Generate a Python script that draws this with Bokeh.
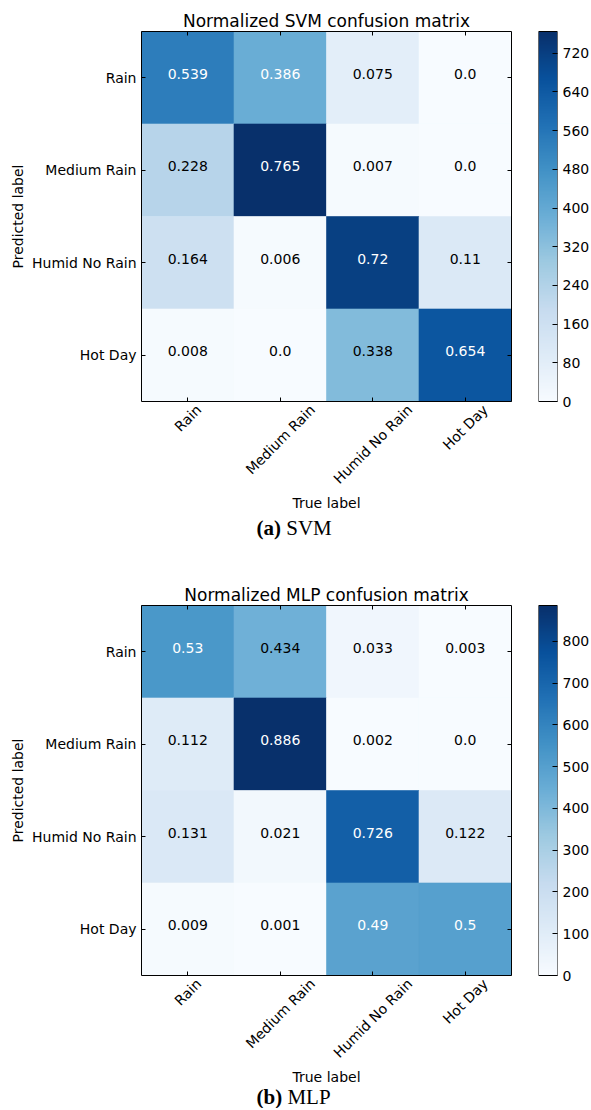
import numpy as np
from math import pi, sqrt
from bokeh.plotting import figure
from bokeh.layouts import column, row
from bokeh.models import (ColumnDataSource, LinearColorMapper, LinearAxis, FixedTicker, Range1d)
from bokeh.palettes import Blues256
from bokeh.core.properties import value
from bokeh.embed import file_html
from bokeh.resources import INLINE

# ---------------- data ----------------
classes = ["Rain", "Medium Rain", "Humid No Rain", "Hot Day"]

# rows = predicted label, columns = true label
svm_values = [
    [0.539, 0.386, 0.075, 0.0],
    [0.228, 0.765, 0.007, 0.0],
    [0.164, 0.006, 0.72, 0.11],
    [0.008, 0.0, 0.338, 0.654],
]
mlp_values = [
    [0.53, 0.434, 0.033, 0.003],
    [0.112, 0.886, 0.002, 0.0],
    [0.131, 0.021, 0.726, 0.122],
    [0.009, 0.001, 0.49, 0.5],
]
svm_title = "Normalized SVM confusion matrix"
mlp_title = "Normalized MLP confusion matrix"
svm_caption = ("(a)", "SVM")
mlp_caption = ("(b)", "MLP")
svm_cbar_step = 80
mlp_cbar_step = 100
x_axis_label = "True label"
y_axis_label = "Predicted label"
COUNT_SCALE = 1000

# ---------------- style (pixels) ----------------
FONT = "DejaVu Sans"
SERIF = "Liberation Serif"
PALETTE = list(reversed(Blues256))
FRAME = 370          # heat-map side
LEFT = 141           # space left of heat-map
GAP = 27             # heat-map right edge -> colour bar
CB_W = 19
CB_RIGHT = 33
FS = 14
CAP_FS = 21

DEJAVU_W = {"R": .695, "a": .613, "i": .278, "n": .634, "M": .863, "e": .615, "d": .635,
            "u": .634, "m": .974, " ": .318, "H": .752, "N": .748, "o": .612, "D": .770,
            "t": .392, "y": .592}
SERIF_BOLD_W = {"(": .333, ")": .333, "a": .5, "b": .556}


def text_width(s, size, table=DEJAVU_W):
    return sum(table.get(c, 0.6) for c in s) * size


def style_axis(ax, tick_len):
    ax.major_tick_in = tick_len
    ax.major_tick_out = 0
    ax.minor_tick_line_color = None
    ax.major_tick_line_color = "black"
    ax.axis_line_color = None
    ax.major_label_text_font = FONT
    ax.major_label_text_font_size = f"{FS}px"
    ax.major_label_text_color = "black"
    ax.major_label_standoff = 5


def tick_axis(loc, ticks, labels=None):
    ax = LinearAxis(fixed_location=loc, ticker=FixedTicker(ticks=ticks))
    style_axis(ax, 4)
    over = {}
    for k, t in enumerate(ticks):
        lab = "" if labels is None else labels[k]
        over[t] = lab
        over[str(t)] = lab
    ax.major_label_overrides = over
    return ax


def build(values, title, caption, step, top, bottom, caption_drop):
    n = len(classes)
    unit = FRAME / n
    vmax = max(max(r) for r in values) * COUNT_SCALE
    vthresh = max(max(r) for r in values) / 2
    mapper = LinearColorMapper(palette=PALETTE, low=0, high=vmax)

    xs, ys, counts, labels, tcol = [], [], [], [], []
    for i, pred in enumerate(classes):
        for j, true in enumerate(classes):
            v = values[i][j]
            xs.append(j + 0.5)
            ys.append(n - 1 - i + 0.5)
            counts.append(v * COUNT_SCALE)
            labels.append(str(round(v, 3)))
            tcol.append("white" if v > vthresh else "black")
    src = ColumnDataSource(dict(x=xs, y=ys, count=counts, label=labels, tcol=tcol))

    width = LEFT + FRAME + GAP
    height = top + FRAME + bottom
    p = figure(x_range=Range1d(-LEFT / unit, n + GAP / unit),
               y_range=Range1d(-bottom / unit, n + top / unit),
               frame_width=width, frame_height=height, min_border=0,
               x_axis_location=None, y_axis_location=None,
               toolbar_location=None, tools="", output_backend="svg",
               background_fill_color="white", border_fill_color="white")
    p.grid.visible = False
    p.outline_line_color = None

    p.rect(x="x", y="y", width=1, height=1, source=src,
           fill_color={"field": "count", "transform": mapper},
           line_color={"field": "count", "transform": mapper}, line_width=0.6)
    p.quad(left=0, right=n, bottom=0, top=n, fill_color=None, line_color="black", line_width=1)
    p.text(x="x", y="y", text="label", source=src,
           text_color={"field": "tcol"}, text_align="center", text_baseline="middle",
           text_font=value(FONT), text_font_size=f"{FS}px", y_offset=-4)

    centers = [k + 0.5 for k in range(n)]
    p.add_layout(tick_axis(0, centers[::-1], classes), "left")
    p.add_layout(tick_axis(n, centers), "right")
    p.add_layout(tick_axis(n, centers), "above")
    p.add_layout(tick_axis(0, centers), "below")

    # title
    p.text(x=[n / 2], y=[n], text=[title], y_offset=-11, text_align="center",
           text_baseline="middle", text_font=value(FONT), text_font_size="17px",
           text_color="black")
    # x tick labels, rotated 45 degrees with their box centred on the tick
    h = 1.164 * FS
    xoff = [text_width(c, FS) / (2 * sqrt(2)) for c in classes]
    xsrc = ColumnDataSource(dict(x=centers, y=[0] * n, text=classes, xo=xoff,
                                 yo=[h / (2 * sqrt(2))] * n))
    p.text(x="x", y="y", text="text", source=xsrc, x_offset="xo", y_offset="yo",
           angle=pi / 4, text_align="right", text_baseline="middle",
           text_font=value(FONT), text_font_size=f"{FS}px", text_color="black")
    # axis labels
    p.text(x=[n / 2], y=[0], text=[x_axis_label], y_offset=101, text_align="center",
           text_baseline="middle", text_font=value(FONT), text_font_size=f"{FS}px",
           text_color="black")
    p.text(x=[0], y=[n / 2], text=[y_axis_label], x_offset=-123.5, angle=pi / 2,
           text_align="center", text_baseline="middle", text_font=value(FONT),
           text_font_size=f"{FS}px", text_color="black")
    # caption: bold "(a)" + regular "SVM"
    cw = text_width(caption[0], CAP_FS, SERIF_BOLD_W)
    anchor = 115 + cw
    p.text(x=[0], y=[0], text=[caption[0]], x_offset=anchor, y_offset=caption_drop,
           text_align="right", text_baseline="middle", text_font=value(SERIF),
           text_font_style="bold", text_font_size=f"{CAP_FS}px", text_color="black")
    p.text(x=[0], y=[0], text=[caption[1]], x_offset=anchor + 0.25 * CAP_FS,
           y_offset=caption_drop, text_align="left", text_baseline="middle",
           text_font=value(SERIF), text_font_size=f"{CAP_FS}px", text_color="black")

    # colour bar as its own small figure (frame spans the full block height)
    cunit = vmax / FRAME
    cb = figure(x_range=Range1d(0, 1), y_range=Range1d(-bottom * cunit, vmax + top * cunit),
                frame_width=CB_W, frame_height=height,
                min_border_left=0, min_border_right=CB_RIGHT,
                min_border_top=0, min_border_bottom=0,
                x_axis_location=None, y_axis_location="right",
                toolbar_location=None, tools="", output_backend="svg",
                background_fill_color="white", border_fill_color="white")
    grad = np.linspace(0, vmax, 256).reshape(256, 1)
    cb.image(image=[grad], x=0, y=0, dw=1, dh=vmax, color_mapper=mapper)
    cb.quad(left=0, right=1, bottom=0, top=vmax, fill_color=None, line_color="black",
            line_width=1)
    cb.grid.visible = False
    cb.outline_line_color = None
    ax = cb.yaxis[0]
    ax.ticker = FixedTicker(ticks=list(range(0, int(vmax) + 1, step)))
    style_axis(ax, 5)
    return row(p, cb)


top_block = build(svm_values, svm_title, svm_caption, svm_cbar_step, 31, 159, 126)
bottom_block = build(mlp_values, mlp_title, mlp_caption, mlp_cbar_step, 45, 133, 121)
layout = column(top_block, bottom_block)

open("out.html", "w").write(file_html(layout, INLINE))
